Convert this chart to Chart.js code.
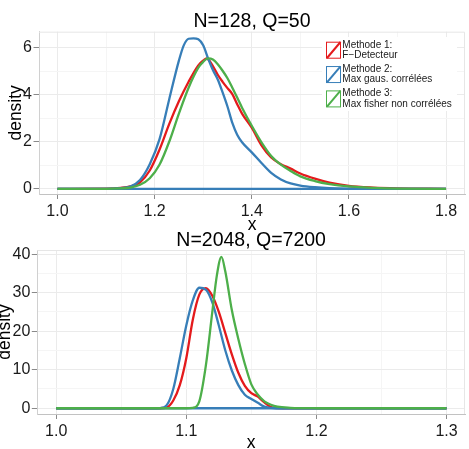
<!DOCTYPE html>
<html><head><meta charset="utf-8">
<script src="https://cdn.jsdelivr.net/npm/chart.js@4"></script>
<style>
html,body{margin:0;padding:0;background:#fff;overflow:hidden;width:469px;height:449px;position:relative}
#c1{position:absolute;left:0;top:0}
#c2{position:absolute;left:0;top:225px}
</style></head><body>
<canvas id="c1" width="469" height="236"></canvas>
<canvas id="c2" width="469" height="232"></canvas>
<script>
// ---------- data ----------
const seriesLabels = [['Methode 1:', 'F\u2212Detecteur'], ['Methode 2:', 'Max gaus. corrélées'], ['Methode 3:', 'Max fisher non corrélées']];
const seriesColors = ['#E41A1C', '#377EB8', '#4DAF4A'];

const topTitle = 'N=128, Q=50';
const topRedX   = [1.0,1.10,1.13,1.15,1.17,1.19,1.21,1.23,1.25,1.27,1.29,1.30,1.307,1.32,1.33,1.34,1.35,1.36,1.37,1.38,1.40,1.42,1.44,1.46,1.48,1.50,1.53,1.56,1.60,1.65,1.70,1.80];
const topRedY   = [0,0.01,0.04,0.1,0.28,0.78,1.66,2.75,3.72,4.55,5.25,5.45,5.54,5.22,4.85,4.55,4.28,4.03,3.6,3.2,2.6,1.85,1.33,1.05,0.86,0.65,0.43,0.26,0.12,0.05,0.02,0];
const topBlueX  = [1.0,1.10,1.13,1.15,1.17,1.19,1.21,1.23,1.25,1.26,1.27,1.28,1.29,1.30,1.31,1.32,1.33,1.34,1.35,1.36,1.37,1.38,1.40,1.42,1.44,1.46,1.48,1.50,1.53,1.56,1.60,1.65,1.80];
const topBlueY  = [0,0,0.03,0.1,0.38,1.05,2.1,3.8,5.45,6.1,6.38,6.4,6.36,6.1,5.55,5.05,4.65,4.1,3.5,2.8,2.3,1.98,1.55,1.1,0.68,0.4,0.23,0.14,0.07,0.03,0.01,0,0];
const topGreenX = [1.0,1.10,1.13,1.15,1.17,1.19,1.21,1.23,1.25,1.27,1.29,1.30,1.31,1.32,1.33,1.34,1.35,1.36,1.37,1.38,1.40,1.42,1.44,1.46,1.48,1.50,1.53,1.56,1.60,1.65,1.70,1.80];
const topGreenY = [0,0,0.02,0.05,0.17,0.45,1.02,2.0,3.2,4.3,5.15,5.4,5.55,5.5,5.3,5.02,4.7,4.3,3.88,3.45,2.68,1.98,1.4,1.03,0.76,0.53,0.33,0.2,0.1,0.04,0.01,0];
const topXTicks = [1.0,1.1,1.2,1.3,1.4,1.5,1.6,1.7,1.8];
const topXMajor = [1.0,1.2,1.4,1.6,1.8];
const topYTicks = [0,1,2,3,4,5,6];
const topYMajor = [0,2,4,6];

const botTitle = 'N=2048, Q=7200';
const botRedX   = [1.0,1.08,1.085,1.09,1.095,1.10,1.105,1.11,1.115,1.12,1.125,1.13,1.135,1.14,1.145,1.15,1.155,1.16,1.165,1.17,1.18,1.30];
const botRedY   = [0,0,0.2,2.0,6.0,13.0,23.0,29.5,31.2,29.2,25.0,19.5,14.0,9.2,5.8,3.9,3.0,1.5,0.3,0.05,0,0];
const botBlueX  = [1.0,1.075,1.08,1.085,1.09,1.095,1.10,1.105,1.11,1.115,1.12,1.125,1.13,1.135,1.14,1.145,1.15,1.155,1.16,1.165,1.17,1.30];
const botBlueY  = [0,0,0.05,0.8,5.0,13.0,21.5,28.0,31.3,30.8,27.5,21.5,15.0,9.8,6.0,3.5,2.4,1.4,0.4,0.08,0,0];
const botGreenX = [1.0,1.10,1.105,1.11,1.115,1.12,1.1235,1.127,1.13,1.135,1.14,1.145,1.15,1.155,1.16,1.165,1.17,1.18,1.19,1.20,1.30];
const botGreenY = [0,0,0.1,1.8,11,25,34.5,39.3,35.5,25.5,18,11.5,6.2,3.5,1.8,0.9,0.4,0.1,0.02,0,0];
const botXTicks = [1.0,1.05,1.1,1.15,1.2,1.25,1.3];
const botXMajor = [1.0,1.1,1.2,1.3];
const botYTicks = [0,5,10,15,20,25,30,35,40];
const botYMajor = [0,10,20,30,40];

// ---------- helpers ----------
const FAMILY = "'Liberation Sans', Arial, Helvetica, sans-serif";
Chart.defaults.font.family = FAMILY;
const zip = (xs, ys) => xs.map((x, i) => ({x: x, y: ys[i]}));
const isMajor = (arr, v) => arr.some(m => Math.abs(m - v) < 1e-9);

const centerTitlePlugin = {
  id: 'centerTitle',
  afterLayout(chart) {
    const t = chart.titleBlock;
    if (t) { t.left = chart.chartArea.left; t.right = chart.chartArea.right; }
  }
};
const framePlugin = {
  id: 'frame',
  beforeDatasetsDraw(chart) {
    const a = chart.chartArea, c = chart.ctx;
    c.save();
    c.strokeStyle = '#e6e6e6'; c.lineWidth = 1;
    c.beginPath();
    c.moveTo(a.left, a.top + 0.5); c.lineTo(a.right - 0.5, a.top + 0.5); c.lineTo(a.right - 0.5, a.bottom);
    c.stroke();
    c.restore();
  }
};
const legendPlugin = {
  id: 'ggLegend',
  afterDraw(chart) {
    const c = chart.ctx;
    c.save();
    c.fillStyle = '#ffffff';
    c.fillRect(322, 37, 135, 74);
    c.font = '10px ' + FAMILY;
    c.textBaseline = 'middle';
    c.textAlign = 'left';
    for (let i = 0; i < 3; i++) {
      const cy = 50 + i * 24.35;
      c.strokeStyle = seriesColors[i];
      c.lineWidth = 1;
      c.strokeRect(326.5, cy - 7.8, 14, 16);
      c.lineWidth = 2;
      c.beginPath(); c.moveTo(327, cy + 8); c.lineTo(340.5, cy - 8); c.stroke();
      c.fillStyle = '#1a1a1a';
      c.fillText(seriesLabels[i][0], 342.3, cy - 5);
      c.fillText(seriesLabels[i][1], 342.3, cy + 5.3);
    }
    c.restore();
  }
};

function lineDs(label, data, color, order) {
  return {label, data, borderColor: color, backgroundColor: color, borderWidth: 2.3,
    pointRadius: 0, pointHoverRadius: 0, fill: false, tension: 0.4,
    cubicInterpolationMode: 'monotone', order};
}

function build(id, p, extraPlugins) {
  return new Chart(document.getElementById(id), {
    type: 'line',
    data: {
      datasets: [
        lineDs(seriesLabels[0].join(' '), zip(p.redX, p.redY), seriesColors[0], 3),
        lineDs(seriesLabels[1].join(' '), zip(p.blueX, p.blueY), seriesColors[1], 2),
        lineDs(seriesLabels[2].join(' '), zip(p.greenX, p.greenY), seriesColors[2], 0),
        Object.assign(lineDs('base', zip([p.xTicks[0], p.xTicks[p.xTicks.length - 1]], [0, 0]), seriesColors[1], 1), {tension: 0, cubicInterpolationMode: 'default'})
      ]
    },
    options: {
      responsive: false, animation: false, devicePixelRatio: 1,
      layout: {padding: {left: 0, right: 4, top: 0, bottom: 0}},
      plugins: {
        legend: {display: false}, tooltip: {enabled: false},
        title: {display: true, text: p.title, color: '#000',
          font: {size: 19.5, lineHeight: 1, weight: 'normal', family: FAMILY},
          padding: {top: p.titlePadTop, bottom: p.titlePadBottom}}
      },
      scales: {
        x: {
          type: 'linear', min: p.xMin, max: p.xMax,
          afterBuildTicks: s => { s.ticks = p.xTicks.map(v => ({value: v})); },
          afterFit: s => { s.height = p.xHeight; },
          ticks: {autoSkip: false, maxRotation: 0, minRotation: 0, padding: 3, color: '#1a1a1a',
            font: {size: 16, family: FAMILY},
            callback: v => isMajor(p.xMajor, v) ? v.toFixed(1) : ''},
          grid: {lineWidth: 1, tickLength: 5,
            color: ctx => isMajor(p.xMajor, ctx.tick ? ctx.tick.value : 0) ? '#ebebeb' : '#f5f5f5',
            tickColor: ctx => isMajor(p.xMajor, ctx.tick ? ctx.tick.value : 0) ? '#8a8a8a' : 'rgba(0,0,0,0)'},
          border: {display: true, color: '#c2c2c2', width: 1},
          title: {display: true, text: 'x', color: '#000', font: {size: 17.5, lineHeight: 1, family: FAMILY},
            padding: {top: 0, bottom: p.xTitlePad}}
        },
        y: {
          type: 'linear', min: p.yMin, max: p.yMax,
          afterBuildTicks: s => { s.ticks = p.yTicks.map(v => ({value: v})); },
          afterFit: s => { s.width = p.yWidth; },
          ticks: {autoSkip: false, padding: 1.5, color: '#1a1a1a',
            font: {size: 16, family: FAMILY},
            callback: v => isMajor(p.yMajor, v) ? String(v) : ''},
          grid: {lineWidth: 1, tickLength: 5.5,
            color: ctx => isMajor(p.yMajor, ctx.tick ? ctx.tick.value : 0) ? '#ebebeb' : '#f5f5f5',
            tickColor: ctx => isMajor(p.yMajor, ctx.tick ? ctx.tick.value : 0) ? '#8a8a8a' : 'rgba(0,0,0,0)'},
          border: {display: true, color: '#d0d0d0', width: 1},
          title: {display: true, text: 'density', color: '#000', font: {size: 17.5, lineHeight: 1, family: FAMILY},
            padding: {top: p.yTitlePad, bottom: 0}}
        }
      }
    },
    plugins: [centerTitlePlugin, framePlugin].concat(extraPlugins || [])
  });
}

build('c1', {
  title: topTitle, titlePadTop: 11.7, titlePadBottom: 0.5,
  redX: topRedX, redY: topRedY, blueX: topBlueX, blueY: topBlueY, greenX: topGreenX, greenY: topGreenY,
  xMin: 0.962, xMax: 1.839, yMin: -0.22, yMax: 6.68,
  xTicks: topXTicks, xMajor: topXMajor, yTicks: topYTicks, yMajor: topYMajor,
  xHeight: 42, yWidth: 39, xTitlePad: 2.2, yTitlePad: 7.5
}, [legendPlugin]);

build('c2', {
  title: botTitle, titlePadTop: 6.2, titlePadBottom: -0.7,
  redX: botRedX, redY: botRedY, blueX: botBlueX, blueY: botBlueY, greenX: botGreenX, greenY: botGreenY,
  xMin: 0.9855, xMax: 1.3142, yMin: -1.5, yMax: 41.1,
  xTicks: botXTicks, xMajor: botXMajor, yTicks: botYTicks, yMajor: botYMajor,
  xHeight: 43, yWidth: 37.3, xTitlePad: 4.9, yTitlePad: -3.8
});
</script>
</body></html>
